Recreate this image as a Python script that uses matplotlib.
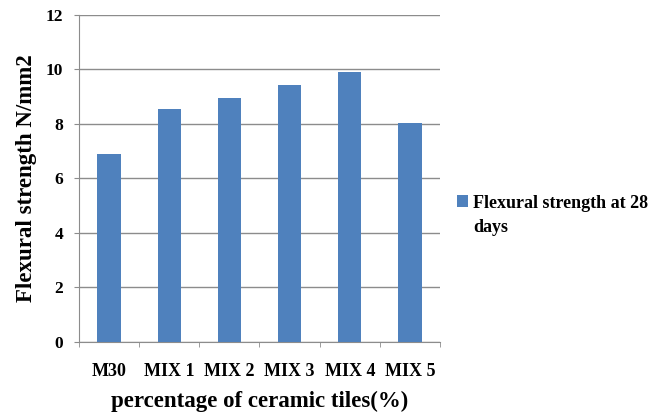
import matplotlib.pyplot as plt

categories = ["M30", "MIX 1", "MIX 2", "MIX 3", "MIX 4", "MIX 5"]
strength_28 = [6.9, 8.55, 8.97, 9.42, 9.92, 8.04]
yticks = [0, 2, 4, 6, 8, 10, 12]

plt.rcParams['font.family'] = ['Liberation Serif', 'DejaVu Serif']
plt.rcParams['font.weight'] = 'bold'

fig = plt.figure(figsize=(6.67, 4.16), dpi=100)
ax = fig.add_axes([0.1184, 0.178, 0.5413, 0.786])

x = range(len(categories))
ax.bar(x, strength_28, width=0.39, color='#4F81BD', zorder=3,
       label="Flexural strength at 28")

ax.set_xlim(-0.5, len(categories) - 0.5)
ax.set_ylim(0, 12)
ax.set_yticks(yticks)
ax.set_xticks(list(x))
ax.set_xticklabels(categories)
ax.set_xticks([i - 0.5 for i in range(len(categories) + 1)], minor=True)

ax.grid(axis='y', color='#8c8c8c', linewidth=1, zorder=0)
for side in ('top', 'right'):
    ax.spines[side].set_visible(False)
for side in ('left', 'bottom'):
    ax.spines[side].set_color('#8c8c8c')

ax.tick_params(axis='x', which='major', length=0, pad=15, labelsize=13)
ax.tick_params(axis='x', which='minor', length=3.5, color='#8c8c8c')
ax.tick_params(axis='y', length=3.5, color='#8c8c8c', labelsize=12.5, pad=8)

ax.set_xlabel("percentage of ceramic tiles(%)", fontsize=16.5, fontweight='bold', labelpad=8)
ax.set_ylabel("Flexural strength N/mm2", fontsize=16.5, fontweight='bold', labelpad=6)

leg = ax.legend(loc='center left', bbox_to_anchor=(0.674, 0.512), bbox_transform=fig.transFigure,
                frameon=False, fontsize=13, handlelength=0.6, handleheight=0.6,
                handletextpad=0.3, borderaxespad=0)

# wrapped second line of the legend label, lined up under the first
fig.canvas.draw()
tb = leg.get_texts()[0].get_window_extent().transformed(fig.transFigure.inverted())
fig.text(tb.x0, tb.y0 - 0.058, "days", fontsize=13, fontweight='bold', ha='left', va='bottom')

fig.savefig("out.png", dpi=100)
